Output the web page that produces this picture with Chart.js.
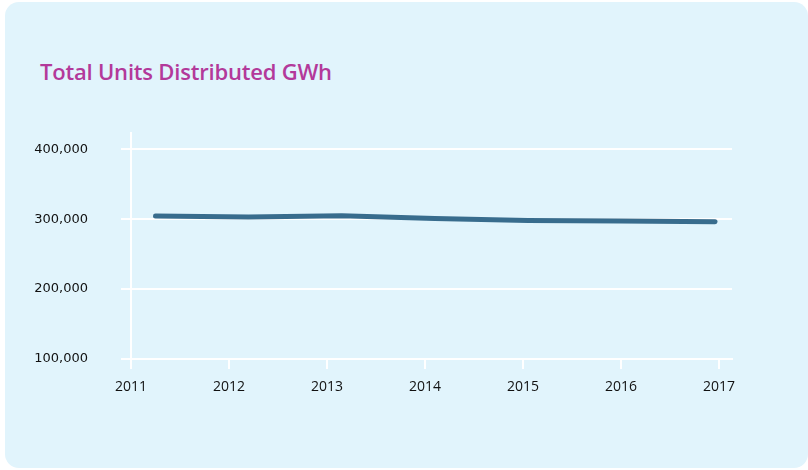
<!DOCTYPE html>
<html>
<head>
<meta charset="utf-8">
<script src="https://cdn.jsdelivr.net/npm/chart.js@4.4.0/dist/chart.umd.min.js"></script>
<style>
  html, body { margin: 0; padding: 0; background: #ffffff; }
  #wrap { position: relative; width: 808px; height: 470px; overflow: hidden; }
  #card { position: absolute; left: 5px; top: 2px; width: 803px; height: 466px; background: #e1f4fc; border-radius: 14px; }
  #title { position: absolute; left: 40px; top: 56px; font-family: "Open Sans", sans-serif; font-size: 22px; font-weight: 600; color: #b3399a; white-space: nowrap; letter-spacing: -0.2px; }
  #c { position: absolute; left: 0; top: 0; }
</style>
</head>
<body>
<div id="wrap">
  <div id="card"></div>
  <div id="title">Total Units Distributed GWh</div>
  <canvas id="c" width="808" height="470"></canvas>
</div>
<script>
// Data
const periods = [2011.25, 2012.2, 2013.15, 2014.1, 2015.05, 2016.0, 2016.96];
const unitsGWh = [304700, 303200, 305000, 301000, 298300, 297400, 296400];
const yearTicks = [2011, 2012, 2013, 2014, 2015, 2016, 2017];
const valueTicks = [100000, 200000, 300000, 400000];

const points = periods.map((p, i) => ({ x: p, y: unitsGWh[i] }));

new Chart(document.getElementById('c'), {
  type: 'line',
  data: {
    datasets: [{
      data: points,
      borderColor: '#386c8d',
      borderWidth: 5,
      borderCapStyle: 'round',
      borderJoinStyle: 'round',
      pointRadius: 0,
      tension: 0,
      fill: false
    }]
  },
  options: {
    responsive: false,
    animation: false,
    layout: { padding: { top: 133, right: 76, bottom: 0, left: 0 } },
    plugins: { legend: { display: false }, tooltip: { enabled: false } },
    scales: {
      x: {
        type: 'linear',
        min: 2011,
        max: 2017.133,
        afterBuildTicks: (s) => { s.ticks = yearTicks.map(v => ({ value: v })); },
        afterFit: (s) => { s.height = 111; },
        grid: { drawOnChartArea: false, color: '#ffffff', lineWidth: 2, tickLength: 10 },
        border: { display: true, color: '#ffffff', width: 2 },
        ticks: {
          padding: 10,
          maxRotation: 0,
          autoSkip: false,
          color: '#111111',
          font: { family: 'Open Sans', size: 14 },
          callback: (v) => String(v)
        }
      },
      y: {
        min: 100000,
        max: 423400,
        afterBuildTicks: (s) => { s.ticks = valueTicks.map(v => ({ value: v })); },
        afterFit: (s) => { s.width = 131; },
        grid: { color: '#ffffff', lineWidth: 2, tickLength: 10 },
        border: { display: true, color: '#ffffff', width: 2 },
        ticks: {
          padding: 33,
          color: '#111111',
          font: { family: 'DejaVu Sans', size: 13 },
          callback: (v) => v.toLocaleString('en-US')
        }
      }
    }
  }
});
</script>
</body>
</html>
